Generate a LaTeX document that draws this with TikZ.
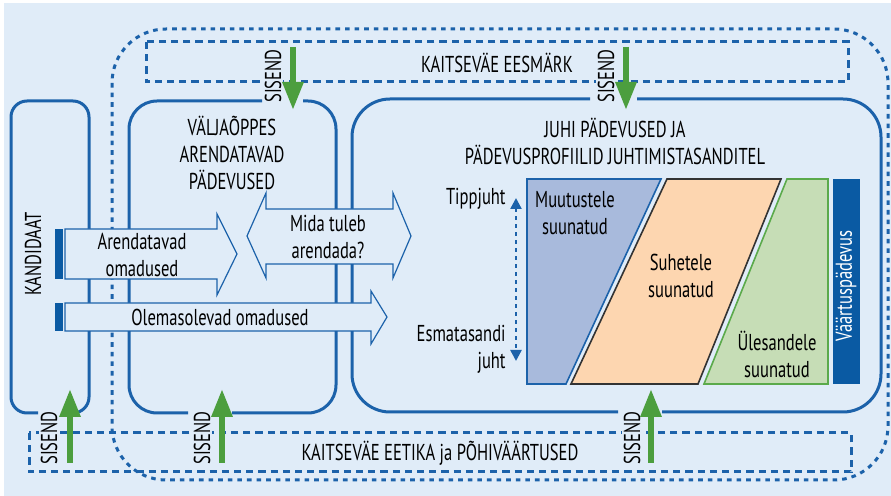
\documentclass[tikz,border=0pt]{standalone}
\usepackage{fontspec}
\setmainfont{PT Sans}[FakeStretch=0.72]
\usetikzlibrary{positioning,arrows.meta}

\definecolor{bgblue}{HTML}{E0ECF8}
\definecolor{lineblue}{HTML}{1C62AA}
\definecolor{darkblue}{HTML}{0A5AA3}
\definecolor{sisendgreen}{HTML}{4C9E3E}
\definecolor{muutfill}{HTML}{A8BADC}
\definecolor{suhefill}{HTML}{FDD6B0}
\definecolor{ylesfill}{HTML}{C6DDB6}
\definecolor{ylesline}{HTML}{5BAA4B}

\newcommand{\lblfont}{\fontsize{11.5}{13.5}\selectfont}

\tikzset{
  boxline/.style={draw=lineblue, line width=1.5pt},
  dashbox/.style={draw=lineblue, line width=1.5pt, dash pattern=on 3.6pt off 2.5pt},
  outerdots/.style={draw=lineblue, line width=1.5pt, dash pattern=on 2.3pt off 2.5pt},
  flatarrow/.style={draw=lineblue, line width=0.6pt, fill=bgblue},
  lbl/.style={align=center, font=\lblfont, inner sep=0pt},
  sisend/.style={rotate=90, fill=bgblue, inner sep=1pt, font=\lblfont},
  greenarrow/.style={draw=sisendgreen, line width=3pt, -{Triangle[width=10pt,length=14pt]}}
}

\begin{document}
\begin{tikzpicture}[x=0.5pt,y=-0.5pt]
  \useasboundingbox (0,0) rectangle (891,496);
  \fill[bgblue] (4,3) rectangle (891,496);

  % outer dotted frame
  \draw[outerdots, rounded corners=27pt] (112,29) rectangle (888,480);

  % goal and ethics
  \draw[dashbox] (146,42) rectangle (848,82);
  \node[lbl] (eesmark) at (497,63) {KAITSEVÄE EESMÄRK};
  \draw[dashbox] (29,433) rectangle (851,472);
  \node[lbl] (eetika) at (440,453) {KAITSEVÄE EETIKA ja PÕHIVÄÄRTUSED};

  % candidate box
  \draw[boxline, rounded corners=8pt] (78,413) -- (89,413) -- (89,101) -- (11,101) -- (11,413) -- (38,413);
  \node[font=\lblfont, inner sep=0pt, rotate=90] (kandidaat) at (33,254) {KANDIDAAT};

  % training box
  \draw[boxline, rounded corners=14pt] (303,101) -- (336,101) -- (336,413) -- (232,413);
  \draw[boxline, rounded corners=14pt] (188,413) -- (129,413) -- (129,101) -- (262,101);
  \node[lbl] (valjaoppes) at (232,153) {VÄLJAÕPPES\\ARENDATAVAD\\PÄDEVUSED};

  % leader box
  \draw[boxline, rounded corners=19pt] (637,99) -- (881,99) -- (881,412) -- (662,412);
  \draw[boxline, rounded corners=19pt] (618,412) -- (352,412) -- (352,99) -- (590,99);
  \node[lbl] (juhi) at (615,141) {JUHI PÄDEVUSED JA\\PÄDEVUSPROFIILID JUHTIMISTASANDITEL};

  % competence areas
  \draw[draw=lineblue, line width=0.8pt, fill=muutfill] (527,179) -- (661,179) -- (566,384) -- (527,384) -- cycle;
  \node[lbl] (muutus) at (575,213) {Muutustele\\suunatud};
  \draw[draw=black!80, line width=0.8pt, fill=suhefill] (667,179) -- (781,179) -- (698,384) -- (571,384) -- cycle;
  \node[lbl] (suhe) at (681,276) {Suhetele\\suunatud};
  \draw[draw=ylesline, line width=0.8pt, fill=ylesfill] (787,179) -- (828,179) -- (828,384) -- (704,384) -- cycle;
  \node[lbl] (ylesanne) at (777,354) {Ülesandele\\suunatud};
  \fill[darkblue] (833,179) rectangle (860,384);
  \node[font=\lblfont, inner sep=0pt, rotate=90, anchor=west, text=white] (vaartus) at (846,342) {Väärtuspädevus};

  % levels
  \node[lbl, anchor=east] (tipp) at (506,199) {Tippjuht};
  \node[lbl, anchor=east, align=right] (esma) at (506,349) {Esmatasandi\\juht};
  \coordinate (tasetop) at (516,198);
  \coordinate (tasebot) at (516,361);
  \draw[draw=lineblue, line width=1.2pt, dash pattern=on 2pt off 2pt,
        {Triangle[width=5.5pt,length=5.5pt]}-{Triangle[width=5.5pt,length=5.5pt]}] (tasetop) -- (tasebot);

  % flat arrows
  \draw[flatarrow] (65,229) -- (217,229) -- (217,214) -- (237,254) -- (217,295) -- (217,279) -- (65,279) -- cycle;
  \fill[darkblue] (55,229) rectangle (62.5,279);
  \node[lbl] (arendatavad) at (142,255) {Arendatavad\\omadused};

  \draw[flatarrow] (65,303) -- (371,303) -- (371,291) -- (387,317) -- (371,344) -- (371,331) -- (65,331) -- cycle;
  \fill[darkblue] (55,303) rectangle (62.5,331);
  \node[lbl] (olemas) at (220,317) {Olemasolevad omadused};

  \draw[flatarrow] (247,236) -- (266,193) -- (266,209) -- (393,209) -- (393,193) -- (411,236)
    -- (393,278) -- (393,264) -- (266,264) -- (266,278) -- cycle;
  \node[lbl] (mida) at (328,237) {Mida tuleb\\arendada?};

  % inputs
  \node[sisend] (sis1) at (273,76) {SISEND};
  \node[sisend] (sis2) at (606,76) {SISEND};
  \node[sisend] (sis3) at (49,438) {SISEND};
  \node[sisend] (sis4) at (202,438) {SISEND};
  \node[sisend] (sis5) at (632,438) {SISEND};

  \coordinate (in1a) at (293,47);  \coordinate (in1b) at (293,110);
  \coordinate (in2a) at (626,47);  \coordinate (in2b) at (626,110);
  \coordinate (in3a) at (70,463);  \coordinate (in3b) at (70,389);
  \coordinate (in4a) at (222,463); \coordinate (in4b) at (222,389);
  \coordinate (in5a) at (651,463); \coordinate (in5b) at (651,389);
  \foreach \a/\b in {in1a/in1b,in2a/in2b,in3a/in3b,in4a/in4b,in5a/in5b}
    \draw[greenarrow] (\a) -- (\b);
\end{tikzpicture}
\end{document}
